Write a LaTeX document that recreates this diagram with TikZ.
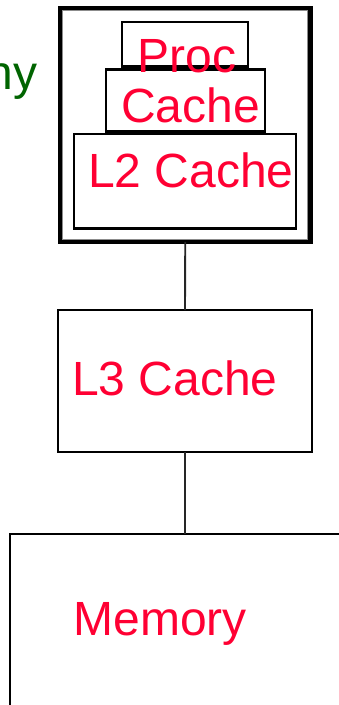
\documentclass[tikz,border=0pt]{standalone}
\usepackage{fontspec}
\setmainfont{Liberation Sans}
\definecolor{txtred}{RGB}{255,0,51}
\definecolor{txtgreen}{RGB}{0,100,0}
\begin{document}
\begin{tikzpicture}[x=1pt,y=-1pt,
  box/.style={draw=black,line width=2.4pt,fill=white,inner sep=0pt,outer sep=0pt,rectangle},
  lbl/.style={inner sep=0pt,outer sep=0pt,text=txtred,font=\fontsize{48}{52}\selectfont,anchor=base west},
  wire/.style={draw=black!85,line width=1.9pt}]
\useasboundingbox (0,0) rectangle (339,705);
\clip (0,0) rectangle (339,705);
% outer package box
\node[box,line width=4.6pt,minimum width=250pt,minimum height=233.5pt] (outer) at (185.25,125) {};
\draw[black!45,line width=0.8pt] (62.8,10.8) rectangle (307.7,239.2);
\node[box,minimum width=126pt,minimum height=44.5pt] (proc) at (185,44.25) {};
\node[box,minimum width=159pt,minimum height=62pt] (cache) at (185.5,100.5) {};
\node[box,minimum width=222pt,minimum height=94.5pt] (l2) at (185,181.25) {};
\node[box,minimum width=254pt,minimum height=142pt] (l3) at (185,381) {};
\node[box,minimum width=390pt,minimum height=266pt] (mem) at (205,667) {};
% connectors
\draw[wire] (outer.south) -- (l3.north);
\draw[wire] (l3.south) -- (l3.south |- mem.north);
% labels
\node[lbl] (tproc) at (137.5,72) {Proc};
\node[lbl] (tcache) at (121,122) {Cache};
\node[lbl] (tl2) at (88,187) {L2 Cache};
\node[lbl] (tl3) at (72,395) {L3 Cache};
\node[lbl] (tmem) at (73.5,635) {Memory};
\node[lbl,text=txtgreen,anchor=base east] (tny) at (37.5,89) {ny};
\end{tikzpicture}
\end{document}
